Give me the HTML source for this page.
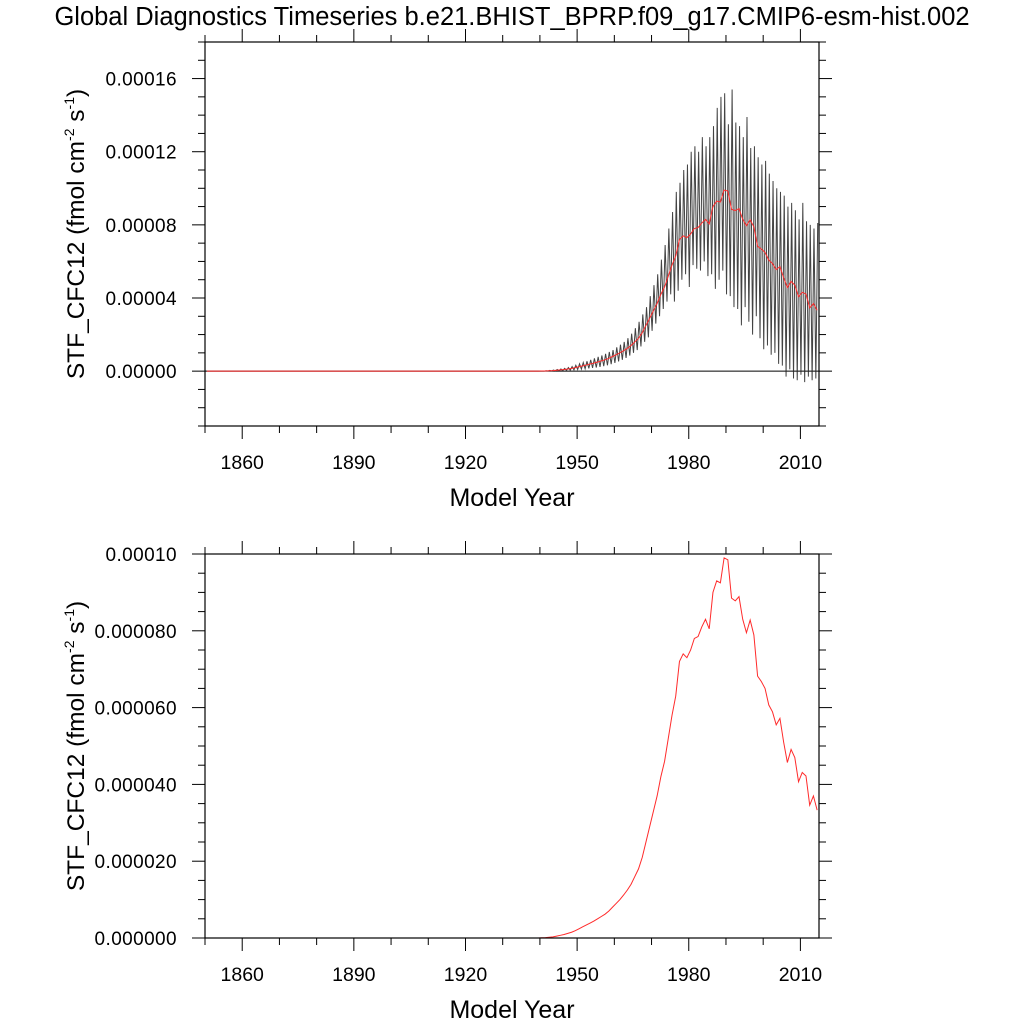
<!DOCTYPE html>
<html><head><meta charset="utf-8"><style>
body{margin:0;background:#fff;}
svg{display:block;font-family:"Liberation Sans",sans-serif;}
</style></head><body>
<svg id="c" width="1024" height="1024" viewBox="0 0 1024 1024">
<text x="512" y="25" text-anchor="middle" font-size="25.5">Global Diagnostics Timeseries b.e21.BHIST_BPRP.f09_g17.CMIP6-esm-hist.002</text>
<g id="top"></g>
<g id="bot"></g>
</svg>
<script>
const startYear = 1850;
// annual mean (units 1e-5), 1850..2014
const annual = [
0,0,0,0,0,0,0,0,0,0, 0,0,0,0,0,0,0,0,0,0,
0,0,0,0,0,0,0,0,0,0, 0,0,0,0,0,0,0,0,0,0,
0,0,0,0,0,0,0,0,0,0, 0,0,0,0,0,0,0,0,0,0,
0,0,0,0,0,0,0,0,0,0, 0,0,0,0,0,0,0,0,0,0,
0,0,0,0,0,0,
0,0,0,0,0.005,0.01,0.02,0.03,0.05,0.07, 0.09,0.12,0.15,0.19,0.24,0.29,0.34,0.39,0.44,0.5,
0.56,0.62,0.7,0.8,0.9,1.0,1.12,1.25,1.4,1.6, 1.8,2.1,2.5,2.9,3.3,3.7,4.2,4.6,5.2,5.8,
6.3,7.2,7.4,7.3,7.5,7.8,7.85,8.1,8.3,8.05, 9.0,9.3,9.25,9.9,9.85,8.85,8.78,8.89,8.3,7.95,
8.28,7.89,6.82,6.68,6.5,6.07,5.89,5.55,5.72,5.1, 4.57,4.91,4.7,4.07,4.31,4.22,3.46,3.7,3.33
];
// seasonal peaks and troughs (units 1e-5), 1850..2014
const peaks = [
0,0,0,0,0,0,0,0,0,0, 0,0,0,0,0,0,0,0,0,0,
0,0,0,0,0,0,0,0,0,0, 0,0,0,0,0,0,0,0,0,0,
0,0,0,0,0,0,0,0,0,0, 0,0,0,0,0,0,0,0,0,0,
0,0,0,0,0,0,0,0,0,0, 0,0,0,0,0,0,0,0,0,0,
0,0,0,0,0,0,
0,0,0,0,0.01,0.02,0.04,0.06,0.09,0.12, 0.15,0.2,0.25,0.32,0.4,0.47,0.54,0.62,0.7,0.78,
0.86,0.95,1.05,1.15,1.3,1.45,1.6,1.8,2.05,2.35, 2.7,3.1,3.5,4.1,4.7,5.3,6.1,6.9,7.8,8.7,
9.8,10.3,11.0,11.3,12.0,12.3,12.0,12.8,12.3,12.8, 13.4,14.4,15.0,15.2,13.5,15.4,13.6,13.4,12.8,13.9,
12.2,12.3,11.7,11.3,11.5,10.8,10.4,10.0,9.8,9.6, 9.0,9.2,8.8,8.3,9.2,8.2,8.0,7.8,8.1
];
const troughs = [
0,0,0,0,0,0,0,0,0,0, 0,0,0,0,0,0,0,0,0,0,
0,0,0,0,0,0,0,0,0,0, 0,0,0,0,0,0,0,0,0,0,
0,0,0,0,0,0,0,0,0,0, 0,0,0,0,0,0,0,0,0,0,
0,0,0,0,0,0,0,0,0,0, 0,0,0,0,0,0,0,0,0,0,
0,0,0,0,0,0,
0,0,0,0,0,0,0.005,0.01,0.015,0.02, 0.03,0.04,0.05,0.07,0.09,0.11,0.13,0.15,0.18,0.2,
0.23,0.27,0.32,0.38,0.45,0.53,0.62,0.72,0.85,1.0, 1.15,1.35,1.6,1.85,2.2,2.6,3.0,3.4,3.8,4.2,
3.8,4.4,5.0,5.3,4.6,5.8,5.6,5.5,6.0,5.2, 5.3,4.5,5.0,5.5,4.2,4.1,3.5,3.4,2.5,3.5,
2.7,2.0,3.0,1.8,1.2,1.4,0.9,1.0,0.4,0.3, -0.3,0.1,-0.4,-0.5,-0.2,-0.6,-0.3,-0.5,-0.4
];
const xTickYears = [1860,1890,1920,1950,1980,2010];
const topTicks = [0,4,8,12,16];
const topTickLabels = ["0.00000","0.00004","0.00008","0.00012","0.00016"];
const botTicks = [0,2,4,6,8,10];
const botTickLabels = ["0.000000","0.000020","0.000040","0.000060","0.000080","0.00010"];

const NS="http://www.w3.org/2000/svg";
function mk(parent,tag,attrs){const e=document.createElementNS(NS,tag);for(const k in attrs)e.setAttribute(k,attrs[k]);parent.appendChild(e);return e;}

function panel(g,y0,y1,vmin,vmax,majors,labels,minorStep,isTop){
  const L=205,R=819,T=y0,B=y1;
  const xs=yr=>L+(yr-1850)/(2015-1850)*(R-L);
  const ys=v=>B-(v-vmin)/(vmax-vmin)*(B-T);
  for(let v=vmin;v<=vmax+1e-9;v+=minorStep){
    const vv=Math.round(v*1000)/1000;
    const maj=majors.some(m=>Math.abs(m-vv)<1e-6);
    const len=maj?13:7;
    const t1=mk(g,'line',{x1:L-len,x2:L,y1:ys(vv),y2:ys(vv),stroke:'#000','stroke-width':1});
    
    
    const t2=mk(g,'line',{x1:R,x2:R+len,y1:ys(vv),y2:ys(vv),stroke:'#000','stroke-width':1});
    
    
  }
  for(let yr=1850;yr<=2015;yr+=10){
    const maj=xTickYears.includes(yr);
    const len=maj?13:7;
    const a=mk(g,'line',{x1:xs(yr),x2:xs(yr),y1:B,y2:B+len,stroke:'#000','stroke-width':1});
    
    
    const b=mk(g,'line',{x1:xs(yr),x2:xs(yr),y1:T-len,y2:T,stroke:'#000','stroke-width':1});
    
    
  }
  majors.forEach((m,i)=>{
    const t=mk(g,'text',{x:177,y:ys(m)+7,'text-anchor':'end','font-size':19,'letter-spacing':0.4});
    t.textContent=labels[i];
    
    
  });
  xTickYears.forEach(yr=>{
    const t=mk(g,'text',{x:xs(yr),y:B+43,'text-anchor':'middle','font-size':19.5});
    t.textContent=yr;
    
    
  });
  const xt=mk(g,'text',{x:512,y:B+80,'text-anchor':'middle','font-size':25});
  xt.textContent='Model Year';
  
  
  const cy=(T+B)/2;
  const yt=mk(g,'text',{x:0,y:0,'text-anchor':'middle','font-size':24.5,transform:`translate(84,${cy}) rotate(-90)`});
  yt.innerHTML='STF_CFC12 (fmol cm<tspan font-size="14" dy="-10">-2</tspan><tspan dy="10"> s</tspan><tspan font-size="14" dy="-10">-1</tspan><tspan dy="10">)</tspan>';
  
  
  if(isTop){
    const z=mk(g,'line',{x1:L,x2:R,y1:ys(0),y2:ys(0),stroke:'#000','stroke-width':1});
    
    
    let d='';
    for(let i=0;i<peaks.length;i++){
      const yr=startYear+i;
      d+=(i?'L':'M')+xs(yr+0.15).toFixed(2)+','+ys(troughs[i]).toFixed(2)+'L'+xs(yr+0.65).toFixed(2)+','+ys(peaks[i]).toFixed(2);
    }
    const p=mk(g,'path',{d:d,fill:'none',stroke:'#222','stroke-width':1,'stroke-opacity':0.85});
    
    
  }
  let d2='';
  annual.forEach((v,i)=>{d2+=(i?'L':'M')+xs(startYear+i+0.5).toFixed(2)+','+ys(v).toFixed(2);});
  const p2=mk(g,'path',{d:d2,fill:'none',stroke:'#ff2a2a','stroke-width':1});
  
  
  const f=mk(g,'rect',{x:L,y:T,width:R-L,height:B-T,fill:'none',stroke:'#000','stroke-width':1.2});
  
  
}
panel(document.getElementById('top'),42,426,-3,18,topTicks,topTickLabels,1,true);
panel(document.getElementById('bot'),554,938,0,10,botTicks,botTickLabels,0.5,false);
</script>
</body></html>
